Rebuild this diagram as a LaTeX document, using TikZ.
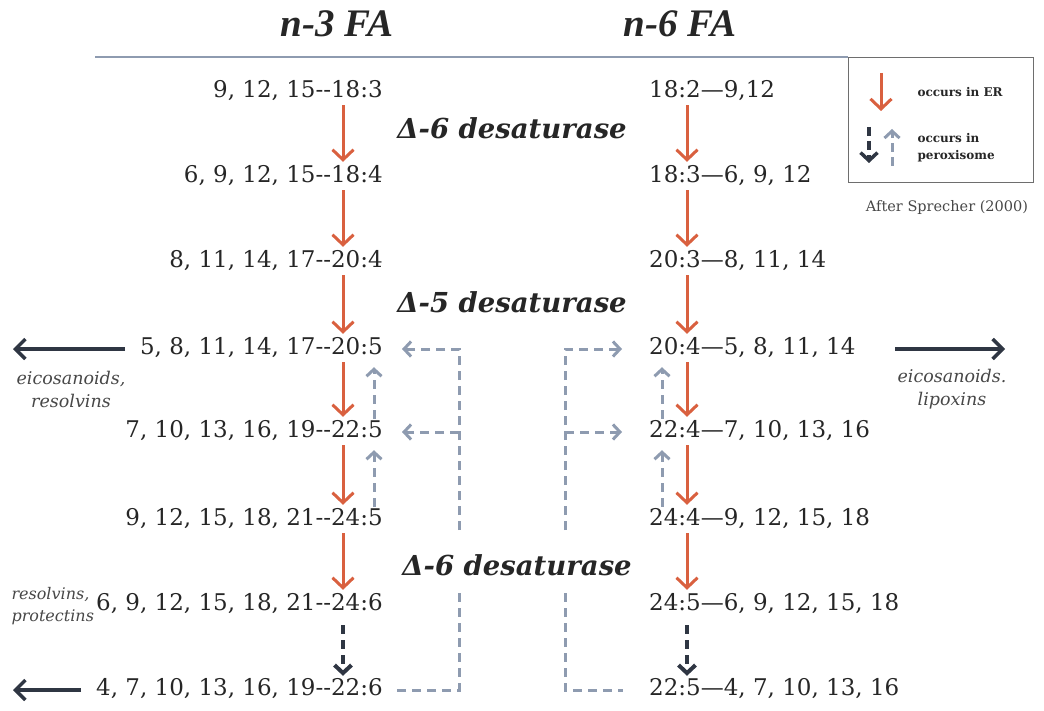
\documentclass[tikz,border=0pt]{standalone}
\usepackage{fontspec}
\setmainfont{DejaVu Serif}
\newfontfamily\titlefont{Liberation Serif}
\usetikzlibrary{arrows.meta,calc}
\definecolor{er}{HTML}{D9603F}
\definecolor{perox}{HTML}{8E9BB0}
\definecolor{darkar}{HTML}{2F3643}
\definecolor{txt}{HTML}{262626}
\definecolor{legbox}{HTML}{6E6E6E}
\begin{document}
\begin{tikzpicture}[x=1pt,y=-1pt,
  fa/.style={font=\fontsize{23}{25}\selectfont, text=txt, inner sep=1pt, minimum height=26pt, text height=16pt, text depth=5pt},
  lrow/.style={fa, anchor=east},
  rrow/.style={fa, anchor=west},
  title/.style={font=\titlefont\bfseries\itshape\fontsize{39}{41}\selectfont, text=txt},
  enz/.style={font=\bfseries\itshape\fontsize{27.5}{29}\selectfont, text=txt},
  lab/.style={font=\itshape\fontsize{17.5}{23}\selectfont, text=txt!85!white},
  legtxt/.style={font=\bfseries\fontsize{12}{17}\selectfont, text=txt, anchor=west, align=left},
  erarrow/.style={er, line width=3pt, -{Straight Barb[length=10pt,width=21pt]}},
  uparrow/.style={perox, line width=3pt, dash pattern=on 9pt off 6pt, -{Straight Barb[length=7pt,width=15pt]}},
  downarrow/.style={darkar, line width=4pt, dash pattern=on 9pt off 6pt, -{Straight Barb[length=8pt,width=17pt]}},
  bracket/.style={perox, line width=3pt, dash pattern=on 9pt off 6pt},
  bracketarrow/.style={bracket, -{Straight Barb[length=7pt,width=15pt]}},
  blk/.style={darkar, line width=3.5pt, -{Straight Barb[length=10pt,width=20pt]}}
]
\useasboundingbox (0,0) rectangle (1044,711);

% titles
\node[title] (t3) at (337,24) {n-3 FA};
\node[title] (t6) at (680,24) {n-6 FA};

% legend
\node[draw=legbox, line width=1.3pt, minimum width=185pt, minimum height=125pt, anchor=north west, inner sep=0pt] (leg) at (848,57) {};
\draw[perox, line width=2.2pt] (95,57) coordinate (topl) -- (leg.north west);
\coordinate (lgA) at (881,73);
\coordinate (lgB) at (881,111);
\draw[erarrow] (lgA) -- (lgB);
\node[legtxt] (legER) at (914,92) {occurs in ER};
\coordinate (lgC) at (869,127);
\coordinate (lgD) at (869,163);
\draw[downarrow, line width=3.5pt, dash pattern=on 9pt off 5pt] (lgC) -- (lgD);
\coordinate (lgE) at (892,166);
\coordinate (lgF) at (892,129);
\draw[uparrow, dash pattern=on 9pt off 5pt] (lgE) -- (lgF);
\node[legtxt] (legPX) at (914,148) {occurs in\\peroxisome};
\node[font=\fontsize{14.5}{16}\selectfont, text=txt!85!white] (src) at (947,208) {After Sprecher (2000)};

% enzymes
\node[enz] (D1) at (512,128) {Δ-6 desaturase};
\node[enz] (D2) at (512,302) {Δ-5 desaturase};
\node[enz] (D3) at (517,565) {Δ-6 desaturase};

% left column (n-3)
\node[lrow] (L1) at (384,92) {9, 12, 15-{}-18:3};
\node[lrow] (L2) at (384,177) {6, 9, 12, 15-{}-18:4};
\node[lrow] (L3) at (384,262) {8, 11, 14, 17-{}-20:4};
\node[lrow] (L4) at (384,349) {5, 8, 11, 14, 17-{}-20:5};
\node[lrow] (L5) at (384,432) {7, 10, 13, 16, 19-{}-22:5};
\node[lrow] (L6) at (384,520) {9, 12, 15, 18, 21-{}-24:5};
\node[lrow] (L7) at (384,605) {6, 9, 12, 15, 18, 21-{}-24:6};
\node[lrow] (L8) at (384,690) {4, 7, 10, 13, 16, 19-{}-22:6};

% right column (n-6)
\node[rrow] (R1) at (648,92) {18:2—9,12};
\node[rrow] (R2) at (648,177) {18:3—6, 9, 12};
\node[rrow] (R3) at (648,262) {20:3—8, 11, 14};
\node[rrow] (R4) at (648,349) {20:4—5, 8, 11, 14};
\node[rrow] (R5) at (648,432) {22:4—7, 10, 13, 16};
\node[rrow] (R6) at (648,520) {24:4—9, 12, 15, 18};
\node[rrow] (R7) at (648,605) {24:5—6, 9, 12, 15, 18};
\node[rrow] (R8) at (648,690) {22:5—4, 7, 10, 13, 16};

% arrow columns
\coordinate (lx) at (343,0);
\coordinate (lb) at (374,0);
\coordinate (rx) at (687,0);
\coordinate (rb) at (662,0);

\foreach \a/\b in {L1/L2,L2/L3,L3/L4,L4/L5,L5/L6,L6/L7}
  \draw[erarrow, shorten >=2pt] (\a.south -| lx) -- (\b.north -| lx);
\foreach \a/\b in {R1/R2,R2/R3,R3/R4,R4/R5,R5/R6,R6/R7}
  \draw[erarrow, shorten >=2pt] (\a.south -| rx) -- (\b.north -| rx);

\draw[uparrow, shorten >=5pt] (L5.north -| lb) -- (L4.south -| lb);
\draw[uparrow, shorten >=5pt] (L6.north -| lb) -- (L5.south -| lb);
\draw[uparrow, shorten >=5pt] (R5.north -| rb) -- (R4.south -| rb);
\draw[uparrow, shorten >=5pt] (R6.north -| rb) -- (R5.south -| rb);

\draw[downarrow, shorten <=7pt, shorten >=1pt] (L7.south -| lx) -- (L8.north -| lx);
\draw[downarrow, shorten <=7pt, shorten >=1pt] (R7.south -| rx) -- (R8.north -| rx);

% dashed brackets (peroxisome retroconversion)
\coordinate (lbr1) at (459,530);
\coordinate (lbr2) at (459,593);
\coordinate (rbr1) at (565,530);
\coordinate (rbr2) at (565,593);
\draw[bracketarrow] (lbr1) |- ([xshift=18pt]L4.east);
\draw[bracketarrow] (lbr1 |- L5.east) -- ([xshift=18pt]L5.east);
\draw[bracket] (lbr2) |- ([xshift=8pt]L8.east);
\draw[bracketarrow] (rbr1) |- ([xshift=-26pt]R4.west);
\draw[bracketarrow] (rbr1 |- R5.west) -- ([xshift=-26pt]R5.west);
\draw[bracket] (rbr2) |- ([xshift=-25pt]R8.west);

% products
\coordinate (pL1) at (125,0);
\coordinate (pL2) at (13,0);
\coordinate (pR1) at (895,0);
\coordinate (pR2) at (1005,0);
\coordinate (pB1) at (81,0);
\draw[blk] (L4.west -| pL1) -- (L4.west -| pL2);
\draw[blk] (R4.east -| pR1) -- (R4.east -| pR2);
\draw[blk] (L8.west -| pB1) -- (L8.west -| pL2);
\node[lab, align=center] (eicL) at (71,389) {eicosanoids,\\resolvins};
\node[lab, align=center] (eicR) at (952,389) {eicosanoids.\\lipoxins};
\node[lab, align=left, anchor=west, font=\itshape\fontsize{16}{22}\selectfont] (resP) at (8,606) {resolvins,\\protectins};
\end{tikzpicture}
\end{document}
